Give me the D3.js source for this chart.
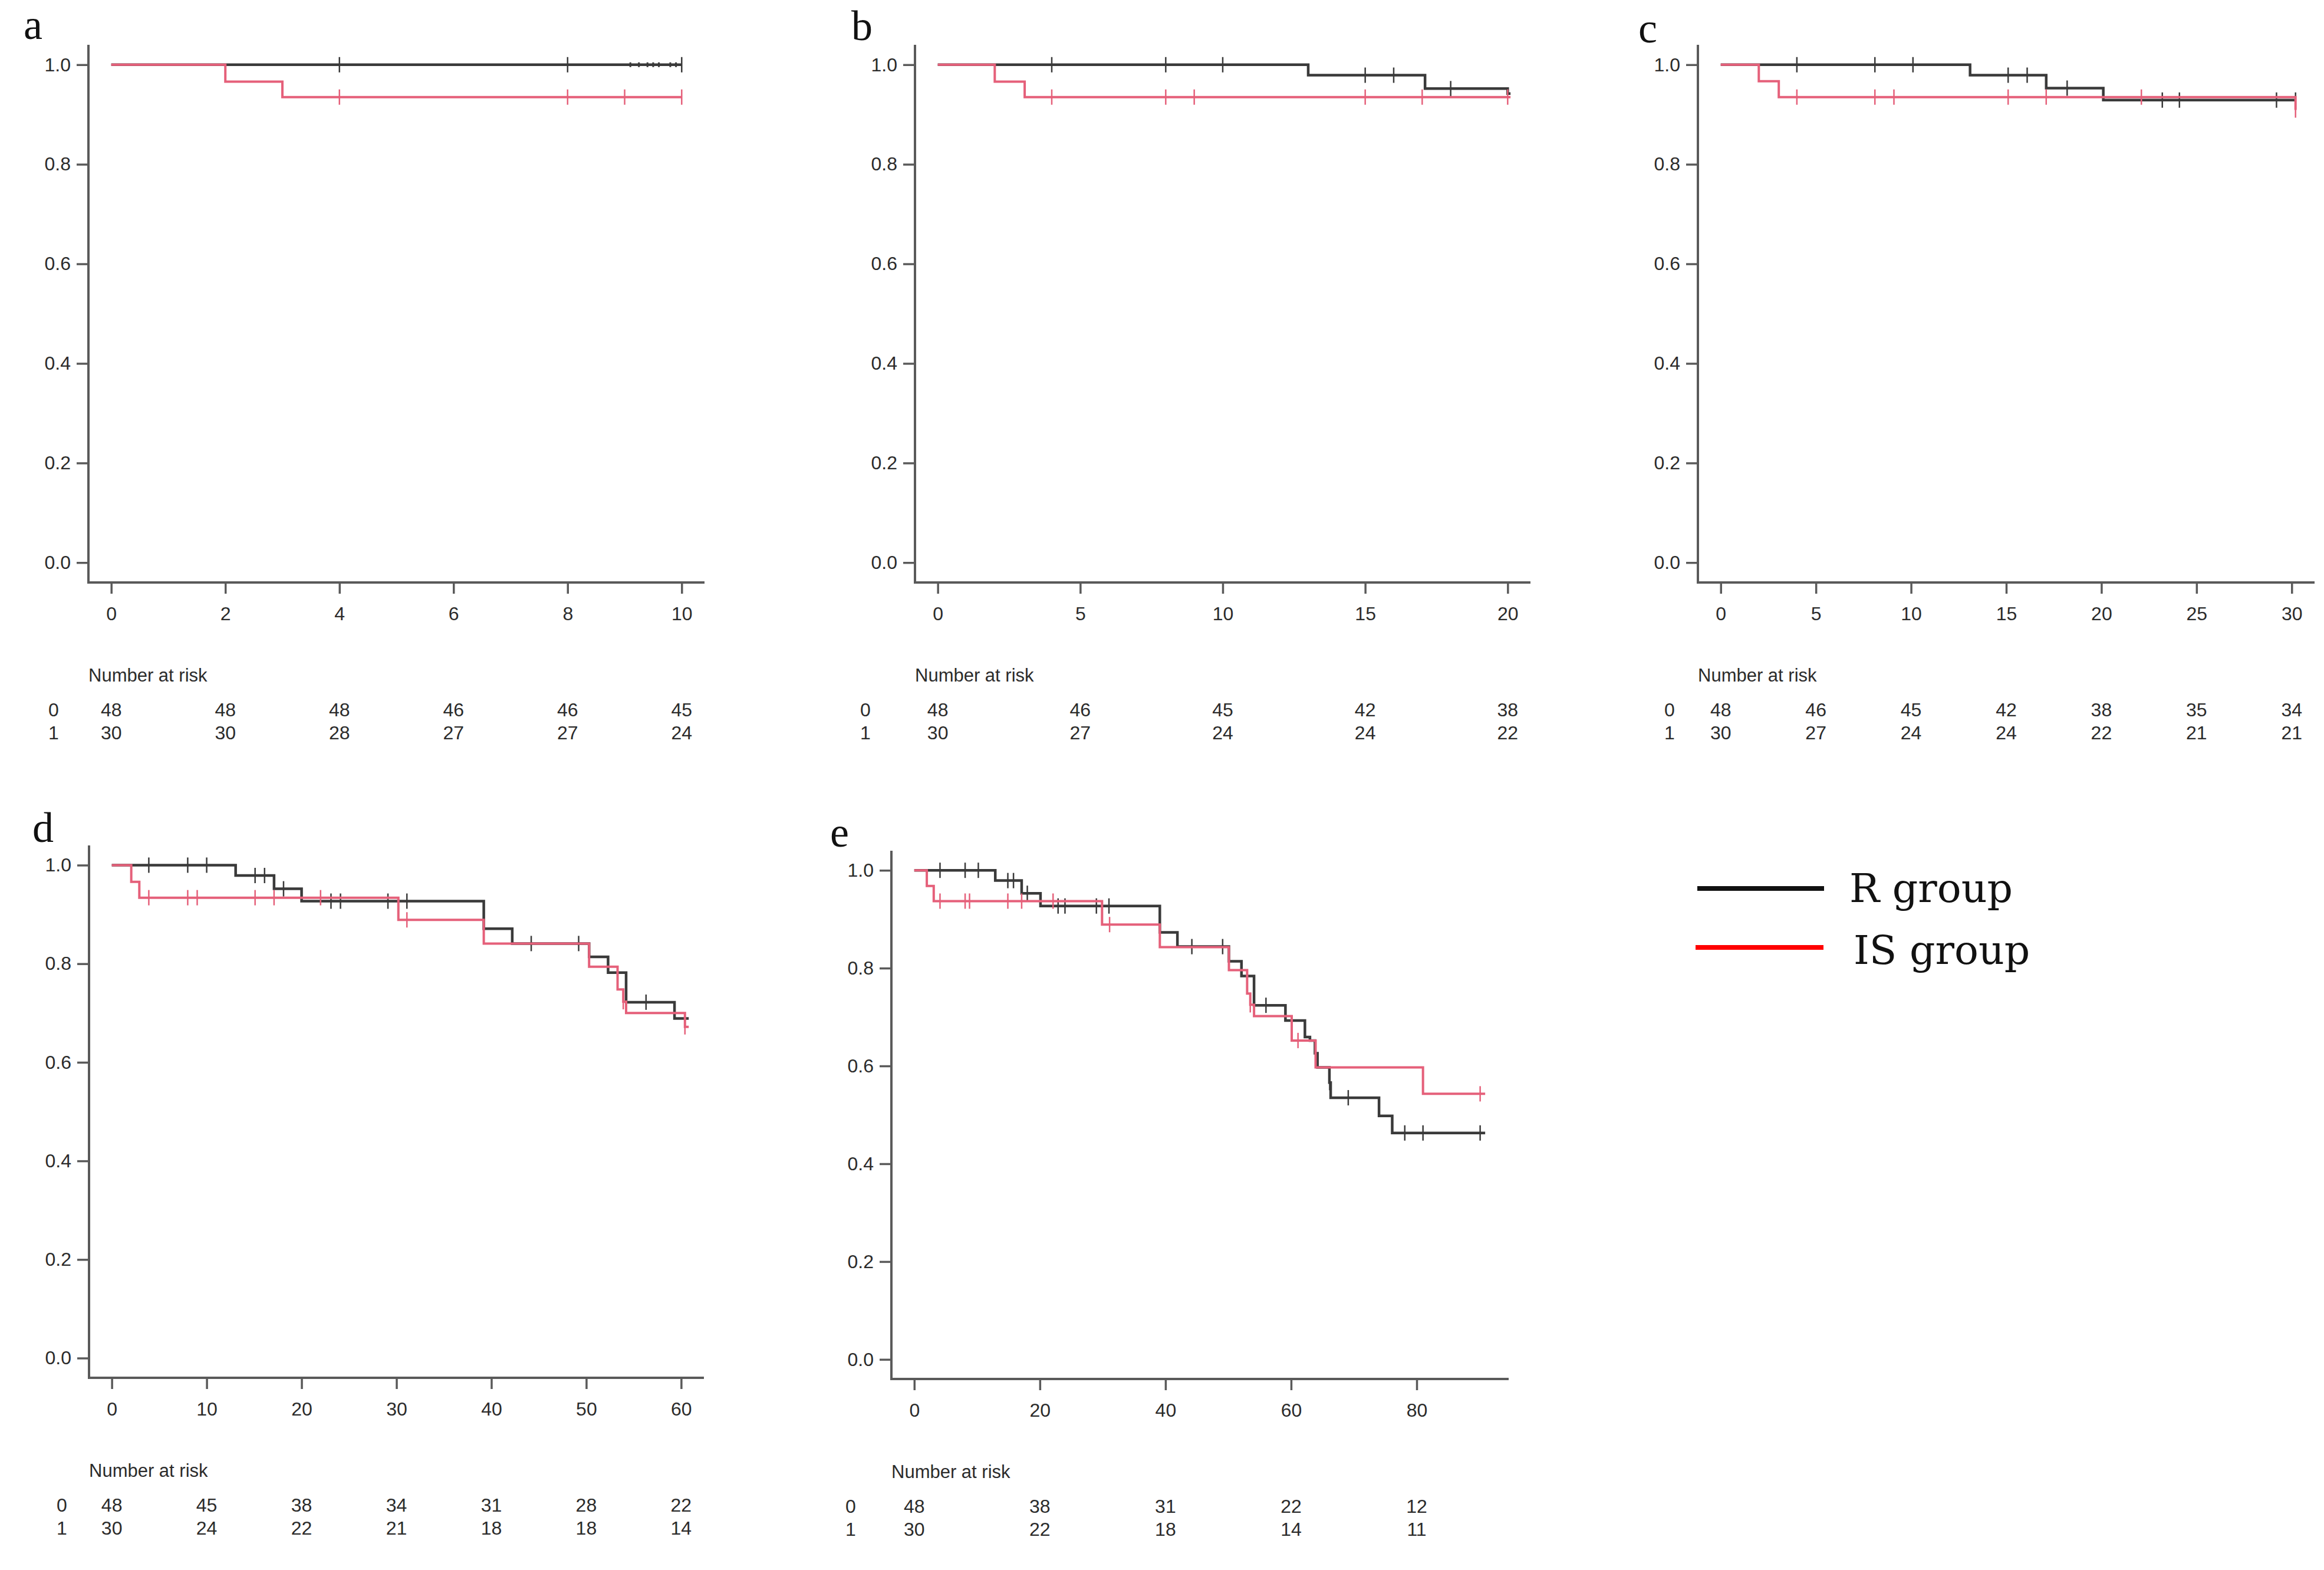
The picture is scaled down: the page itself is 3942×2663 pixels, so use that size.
<!DOCTYPE html>
<html>
<head>
<meta charset="utf-8">
<script src="https://cdn.jsdelivr.net/npm/d3@7"></script>
<style>
  body { margin: 0; background: #fff; }
  svg { display: block; }
</style>
</head>
<body>
<script>
// ---- data ----
var groups = ['R group', 'IS group'];
var riskRows = ['0', '1'];

// panel a (0-10)
var aTicks = [0, 2, 4, 6, 8, 10];
var aRiskR = [48, 48, 48, 46, 46, 45];
var aRiskIS = [30, 30, 28, 27, 27, 24];
var aStepsR = [];
var aStepsIS = [[2, 0.966], [3, 0.935]];
var aCensR = [4, 8, 10];
var aCensIS = [4, 8, 9, 10];
var aTinyR = [9.1, 9.25, 9.4, 9.5, 9.6, 9.8, 9.9];

// panel b (0-20)
var bTicks = [0, 5, 10, 15, 20];
var bRiskR = [48, 46, 45, 42, 38];
var bRiskIS = [30, 27, 24, 24, 22];
var bStepsR = [[13, 0.979], [17.1, 0.952], [20, 0.942]];
var bStepsIS = [[2, 0.966], [3.05, 0.935]];
var bCensR = [4, 8, 10, 15, 16, 18];
var bCensIS = [4, 8, 9, 15, 17, 20];

// panel c (0-30)
var cTicks = [0, 5, 10, 15, 20, 25, 30];
var cRiskR = [48, 46, 45, 42, 38, 35, 34];
var cRiskIS = [30, 27, 24, 24, 22, 21, 21];
var cStepsR = [[13.1, 0.979], [17.1, 0.953], [20.1, 0.929]];
var cStepsIS = [[2, 0.967], [3.05, 0.935], [30.2, 0.909]];
var cCensR = [4, 8.1, 10.1, 15.1, 16.1, 18.2, 23.2, 24.1, 29.2, 30.2];
var cCensIS = [4, 8.1, 9.1, 15.1, 17.1, 22.1, 30.2];

// panel d (0-60)
var dTicks = [0, 10, 20, 30, 40, 50, 60];
var dRiskR = [48, 45, 38, 34, 31, 28, 22];
var dRiskIS = [30, 24, 22, 21, 18, 18, 14];
var dStepsR = [[13.05, 0.979], [17.1, 0.952], [20, 0.927], [39.2, 0.871], [42.2, 0.841],
  [50.3, 0.814], [52.3, 0.782], [54.2, 0.722], [59.3, 0.689]];
var dStepsIS = [[2.05, 0.966], [2.9, 0.934], [30.2, 0.889], [39.2, 0.841], [50.3, 0.794],
  [53.3, 0.748], [53.9, 0.723], [54.2, 0.70], [60.4, 0.672]];
var dCensR = [3.9, 8, 10, 15.1, 16.1, 18.1, 23.1, 24.1, 29.1, 31.1, 44.2, 49.2, 56.3];
var dCensIS = [3.9, 8, 9, 15.1, 17.1, 22, 31.1, 53.9, 60.4];

// panel e (0-90)
var eTicks = [0, 20, 40, 60, 80];
var eRiskR = [48, 38, 31, 22, 12];
var eRiskIS = [30, 22, 18, 14, 11];
var eStepsR = [[12.9, 0.979], [17.1, 0.953], [20.1, 0.927], [39.1, 0.873], [41.9, 0.844],
  [50.1, 0.814], [52.1, 0.784], [54.1, 0.724], [59.1, 0.693], [62.2, 0.659], [63.0, 0.652],
  [63.8, 0.626], [64.2, 0.597], [66.1, 0.566], [66.3, 0.535], [74.0, 0.498], [76.1, 0.463]];
var eStepsIS = [[2.0, 0.968], [3.1, 0.937], [29.9, 0.889], [39.1, 0.843], [50.1, 0.796],
  [53.0, 0.748], [53.5, 0.725], [54.1, 0.702], [60.1, 0.652], [63.9, 0.597], [81.0, 0.543]];
var eCensR = [4.1, 8.1, 10.2, 14.9, 15.8, 18.0, 22.9, 24.0, 29.0, 31.0, 44.2, 49.1, 56.0,
  66.15, 69.1, 78.1, 81.0, 90.1];
var eCensIS = [4.1, 8.1, 8.8, 14.9, 17.1, 22.1, 31.1, 53.5, 61.1, 90.1];

var yTicks = [0, 0.2, 0.4, 0.6, 0.8, 1.0];

// ---- layout ----
var W = 3942, H = 2663;
var black = '#3a3a3a', red = '#e5607a', axisCol = '#5a5a5a', textCol = '#2b2b2b';

var panels = [
  { letter: 'a', lx: 40, ly: 66, left: 150, right: 1195, top: 76, bottom: 988, xmax: 10, end: 10,
    ticks: aTicks, riskR: aRiskR, riskIS: aRiskIS, stepsR: aStepsR, stepsIS: aStepsIS,
    censR: aCensR, censIS: aCensIS, tiny: aTinyR, rowOff: 59 },
  { letter: 'b', lx: 1444, ly: 68, left: 1552, right: 2596, top: 76, bottom: 988, xmax: 20, end: 20.1,
    ticks: bTicks, riskR: bRiskR, riskIS: bRiskIS, stepsR: bStepsR, stepsIS: bStepsIS,
    censR: bCensR, censIS: bCensIS, rowOff: 84 },
  { letter: 'c', lx: 2779, ly: 72, left: 2880, right: 3926, top: 76, bottom: 988, xmax: 30, end: 30.2,
    ticks: cTicks, riskR: cRiskR, riskIS: cRiskIS, stepsR: cStepsR, stepsIS: cStepsIS,
    censR: cCensR, censIS: cCensIS, rowOff: 48 },
  { letter: 'd', lx: 55, ly: 1428, left: 151, right: 1194, top: 1434, bottom: 2337, xmax: 60, end: 60.8,
    ticks: dTicks, riskR: dRiskR, riskIS: dRiskIS, stepsR: dStepsR, stepsIS: dStepsIS,
    censR: dCensR, censIS: dCensIS, rowOff: 46 },
  { letter: 'e', lx: 1408, ly: 1436, left: 1512, right: 2559, top: 1443, bottom: 2339, xmax: 91, end: 90.9,
    ticks: eTicks, riskR: eRiskR, riskIS: eRiskIS, stepsR: eStepsR, stepsIS: eStepsIS,
    censR: eCensR, censIS: eCensIS, rowOff: 69 }
];

var svg = d3.select('body').append('svg')
  .attr('width', W)
  .attr('height', H)
  .attr('viewBox', '0 0 ' + W + ' ' + H);

svg.append('rect').attr('width', W).attr('height', H).attr('fill', '#fff');

function survAt(steps, t) {
  var s = 1;
  steps.forEach(function (d) { if (d[0] <= t) s = d[1]; });
  return s;
}

function curvePoints(steps, end) {
  var pts = [[0, 1]].concat(steps);
  pts.push([end, pts[pts.length - 1][1]]);
  return pts;
}

panels.forEach(function (p) {
  var g = svg.append('g');
  var ext = 0.04 * p.xmax;
  var x = d3.scaleLinear().domain([-ext, p.xmax + ext]).range([p.left, p.right]);
  var y = d3.scaleLinear().domain([-0.04, 1.04]).range([p.bottom, p.top]);

  // panel letter
  g.append('text')
    .attr('x', p.lx).attr('y', p.ly)
    .attr('font-family', '"Liberation Serif", "DejaVu Serif", serif')
    .attr('font-size', 72)
    .attr('fill', '#111')
    .text(p.letter);

  // axes
  var yAxis = d3.axisLeft(y).tickValues(yTicks).tickFormat(d3.format('.1f')).tickSize(20).tickPadding(10);
  var xAxis = d3.axisBottom(x).tickValues(p.ticks).tickSize(19).tickPadding(22);

  var ya = g.append('g').attr('transform', 'translate(' + p.left + ',0)').call(yAxis);
  var xa = g.append('g').attr('transform', 'translate(0,' + p.bottom + ')').call(xAxis);
  [ya, xa].forEach(function (a) {
    a.select('.domain').remove();
    a.selectAll('.tick line').attr('stroke', axisCol).attr('stroke-width', 3.5);
    a.selectAll('.tick text')
      .attr('font-family', '"Liberation Sans", Arial, sans-serif')
      .attr('font-size', 32)
      .attr('fill', textCol);
  });
  // L-shaped frame
  g.append('path')
    .attr('d', 'M' + p.left + ',' + p.top + 'V' + p.bottom + 'H' + p.right)
    .attr('fill', 'none')
    .attr('stroke', axisCol)
    .attr('stroke-width', 4);

  // curves: R first, IS on top
  var line = d3.line()
    .x(function (d) { return x(d[0]); })
    .y(function (d) { return y(d[1]); })
    .curve(d3.curveStepAfter);

  var series = [
    { steps: p.stepsR, cens: p.censR, col: black, w: 4.5 },
    { steps: p.stepsIS, cens: p.censIS, col: red, w: 4 }
  ];
  series.forEach(function (s) {
    g.append('path')
      .datum(curvePoints(s.steps, p.end))
      .attr('d', line)
      .attr('fill', 'none')
      .attr('stroke', s.col)
      .attr('stroke-width', s.w)
      .attr('stroke-linejoin', 'miter');
    g.selectAll(null)
      .data(s.cens)
      .enter().append('line')
      .attr('x1', function (d) { return x(d); })
      .attr('x2', function (d) { return x(d); })
      .attr('y1', function (d) { return y(survAt(s.steps, d)) - 13; })
      .attr('y2', function (d) { return y(survAt(s.steps, d)) + 13; })
      .attr('stroke', s.col)
      .attr('stroke-width', 2.5);
  });
  if (p.tiny) {
    g.selectAll(null)
      .data(p.tiny)
      .enter().append('line')
      .attr('x1', function (d) { return x(d); })
      .attr('x2', function (d) { return x(d); })
      .attr('y1', function (d) { return y(survAt(p.stepsR, d)) - 4; })
      .attr('y2', function (d) { return y(survAt(p.stepsR, d)) + 4; })
      .attr('stroke', black)
      .attr('stroke-width', 3);
  }

  // number at risk table
  var font = '"Liberation Sans", Arial, sans-serif';
  g.append('text')
    .attr('x', p.left).attr('y', p.bottom + 157)
    .attr('dy', '0.35em')
    .attr('font-family', font).attr('font-size', 31).attr('fill', textCol)
    .text('Number at risk');

  var rows = [p.riskR, p.riskIS];
  rows.forEach(function (vals, i) {
    var ry = p.bottom + (i === 0 ? 216 : 255);
    g.append('text')
      .attr('x', p.left - p.rowOff).attr('y', ry)
      .attr('dy', '0.35em').attr('text-anchor', 'middle')
      .attr('font-family', font).attr('font-size', 32).attr('fill', textCol)
      .text(riskRows[i]);
    g.selectAll(null)
      .data(vals)
      .enter().append('text')
      .attr('x', function (d, j) { return x(p.ticks[j]); })
      .attr('y', ry)
      .attr('dy', '0.35em').attr('text-anchor', 'middle')
      .attr('font-family', font).attr('font-size', 32).attr('fill', textCol)
      .text(function (d) { return d; });
  });
});

// legend
var legend = svg.append('g');
var legItems = [
  { label: groups[0], col: '#111', x1: 2879, x2: 3094, y: 1507, tx: 3137, ty: 1530 },
  { label: groups[1], col: '#ff0000', x1: 2876, x2: 3093, y: 1607, tx: 3144, ty: 1635 }
];
legItems.forEach(function (d) {
  legend.append('line')
    .attr('x1', d.x1).attr('x2', d.x2)
    .attr('y1', d.y).attr('y2', d.y)
    .attr('stroke', d.col).attr('stroke-width', 8);
  legend.append('text')
    .attr('x', d.tx).attr('y', d.ty)
    .attr('font-family', '"DejaVu Serif", "Liberation Serif", serif')
    .attr('font-size', 68)
    .attr('fill', '#111')
    .text(d.label);
});
</script>
</body>
</html>
